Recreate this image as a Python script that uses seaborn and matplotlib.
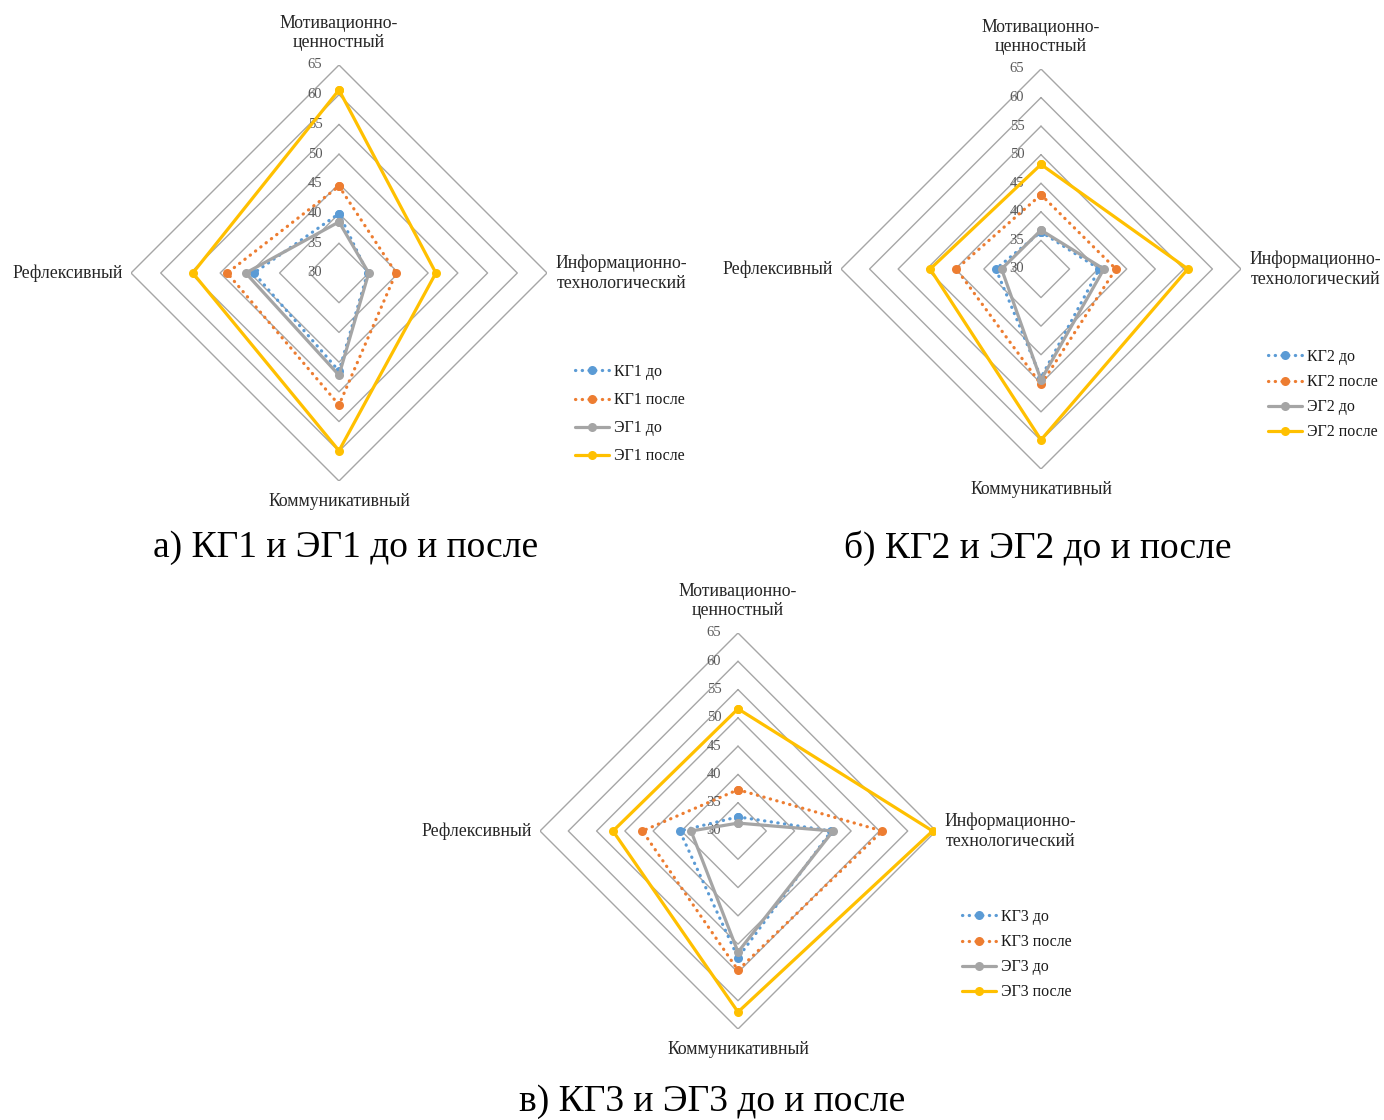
import numpy as np
import pandas as pd
import seaborn as sns
import matplotlib.pyplot as plt

# four components of the competence, clockwise from the top
categories = ['Мотивационно-\nценностный', 'Информационно-\nтехнологический',
              'Коммуникативный', 'Рефлексивный']
ticks = [30, 35, 40, 45, 50, 55, 60, 65]

kg1_before = [40.0, 34.8, 46.5, 44.3]
kg1_after = [44.6, 39.6, 52.2, 48.8]
eg1_before = [38.6, 35.0, 47.2, 45.7]
eg1_after = [60.8, 46.3, 59.9, 54.6]

kg2_before = [36.5, 40.2, 49.0, 37.9]
kg2_after = [43.0, 43.1, 50.2, 44.8]
eg2_before = [36.8, 41.0, 49.4, 36.9]
eg2_after = [48.3, 55.7, 59.9, 49.4]

kg3_before = [32.5, 46.5, 52.4, 40.3]
kg3_after = [37.3, 55.5, 54.6, 46.9]
eg3_before = [31.4, 46.8, 51.4, 38.3]
eg3_after = [51.6, 64.4, 62.0, 52.1]

captions = ['а) КГ1 и ЭГ1 до и после', 'б) КГ2 и ЭГ2 до и после', 'в) КГ3 и ЭГ3 до и после']

sns.set_style('white')
plt.rcParams['font.family'] = ['Liberation Serif', 'DejaVu Serif']
plt.rcParams['text.color'] = '#1a1a1a'

colors = ['#5B9BD5', '#ED7D31', '#A5A5A5', '#FFC000']
dotted = (0, (0.1, 2.0))
styles = [dotted, dotted, '-', '-']
grid_color = '#A6A6A6'

fig = plt.figure(figsize=(13.84, 11.2), dpi=100)


def add_polar(cx, cy, r):
    W, H = 1384, 1120
    return fig.add_axes([(cx - r) / W, (H - cy - r) / H, 2 * r / W, 2 * r / H],
                        projection='polar')


def radar(ax, series, names, legend_xy, legend_gap):
    angles = np.deg2rad([0, 90, 180, 270, 360])
    ax.set_theta_zero_location('N')
    ax.set_theta_direction(-1)
    ax.grid(False)
    ax.spines['polar'].set_visible(False)
    ax.set_xticks([])
    ax.set_yticks([])
    ax.patch.set_alpha(0)
    for t in ticks[1:]:
        ax.plot(angles, [t] * 5, color=grid_color, lw=1.0, zorder=1)
    for t in ticks:
        ax.annotate(str(t), xy=(0, t), xytext=(-12, 0), textcoords='offset points',
                    ha='right', va='center', fontsize=10.5, color='#595959', zorder=2)

    for vals, name, c, ls in zip(series, names, colors, styles):
        df = pd.DataFrame({'theta': angles, 'r': vals + vals[:1]})
        sns.lineplot(data=df, x='theta', y='r', ax=ax, sort=False, estimator=None,
                     color=c, lw=2.3, linestyle=ls, dash_capstyle='round',
                     marker='o', markersize=6.5, markeredgewidth=0,
                     label=name, zorder=3)
    ax.set_ylim(30, 65)
    ax.set_xlabel('')
    ax.set_ylabel('')

    offs = [(0, 10, 'center', 'bottom'), (6, 0, 'left', 'center'),
            (0, -9, 'center', 'top'), (-6, 0, 'right', 'center')]
    for a, lab, (dx, dy, ha, va) in zip(angles[:4], categories, offs):
        ax.annotate(lab, xy=(a, 65), xytext=(dx, dy), textcoords='offset points',
                    ha=ha, va=va, multialignment='center', fontsize=12.8,
                    color='#262626', annotation_clip=False)

    ax.legend(loc='upper left', bbox_to_anchor=legend_xy, bbox_transform=fig.transFigure,
              frameon=False, fontsize=11.5, handlelength=2.1, handletextpad=0.35,
              labelspacing=legend_gap, borderpad=0, borderaxespad=0)


ax1 = add_polar(339, 273, 208)
radar(ax1, [kg1_before, kg1_after, eg1_before, eg1_after],
      ['КГ1 до', 'КГ1 после', 'ЭГ1 до', 'ЭГ1 после'], (575 / 1384, 1 - 364 / 1120), 0.76)

ax2 = add_polar(1041, 269, 200)
radar(ax2, [kg2_before, kg2_after, eg2_before, eg2_after],
      ['КГ2 до', 'КГ2 после', 'ЭГ2 до', 'ЭГ2 после'], (1268 / 1384, 1 - 349 / 1120), 0.57)

ax3 = add_polar(738, 831, 198)
radar(ax3, [kg3_before, kg3_after, eg3_before, eg3_after],
      ['КГ3 до', 'КГ3 после', 'ЭГ3 до', 'ЭГ3 после'], (962 / 1384, 1 - 909 / 1120), 0.57)

fig.text(346 / 1384, 1 - 548 / 1120, captions[0], ha='center', va='center', fontsize=27, color='black')
fig.text(1038 / 1384, 1 - 548 / 1120, captions[1], ha='center', va='center', fontsize=27, color='black')
fig.text(712 / 1384, 1 - 1102 / 1120, captions[2], ha='center', va='center', fontsize=27, color='black')

fig.savefig('out.png', dpi=100, facecolor='white')
